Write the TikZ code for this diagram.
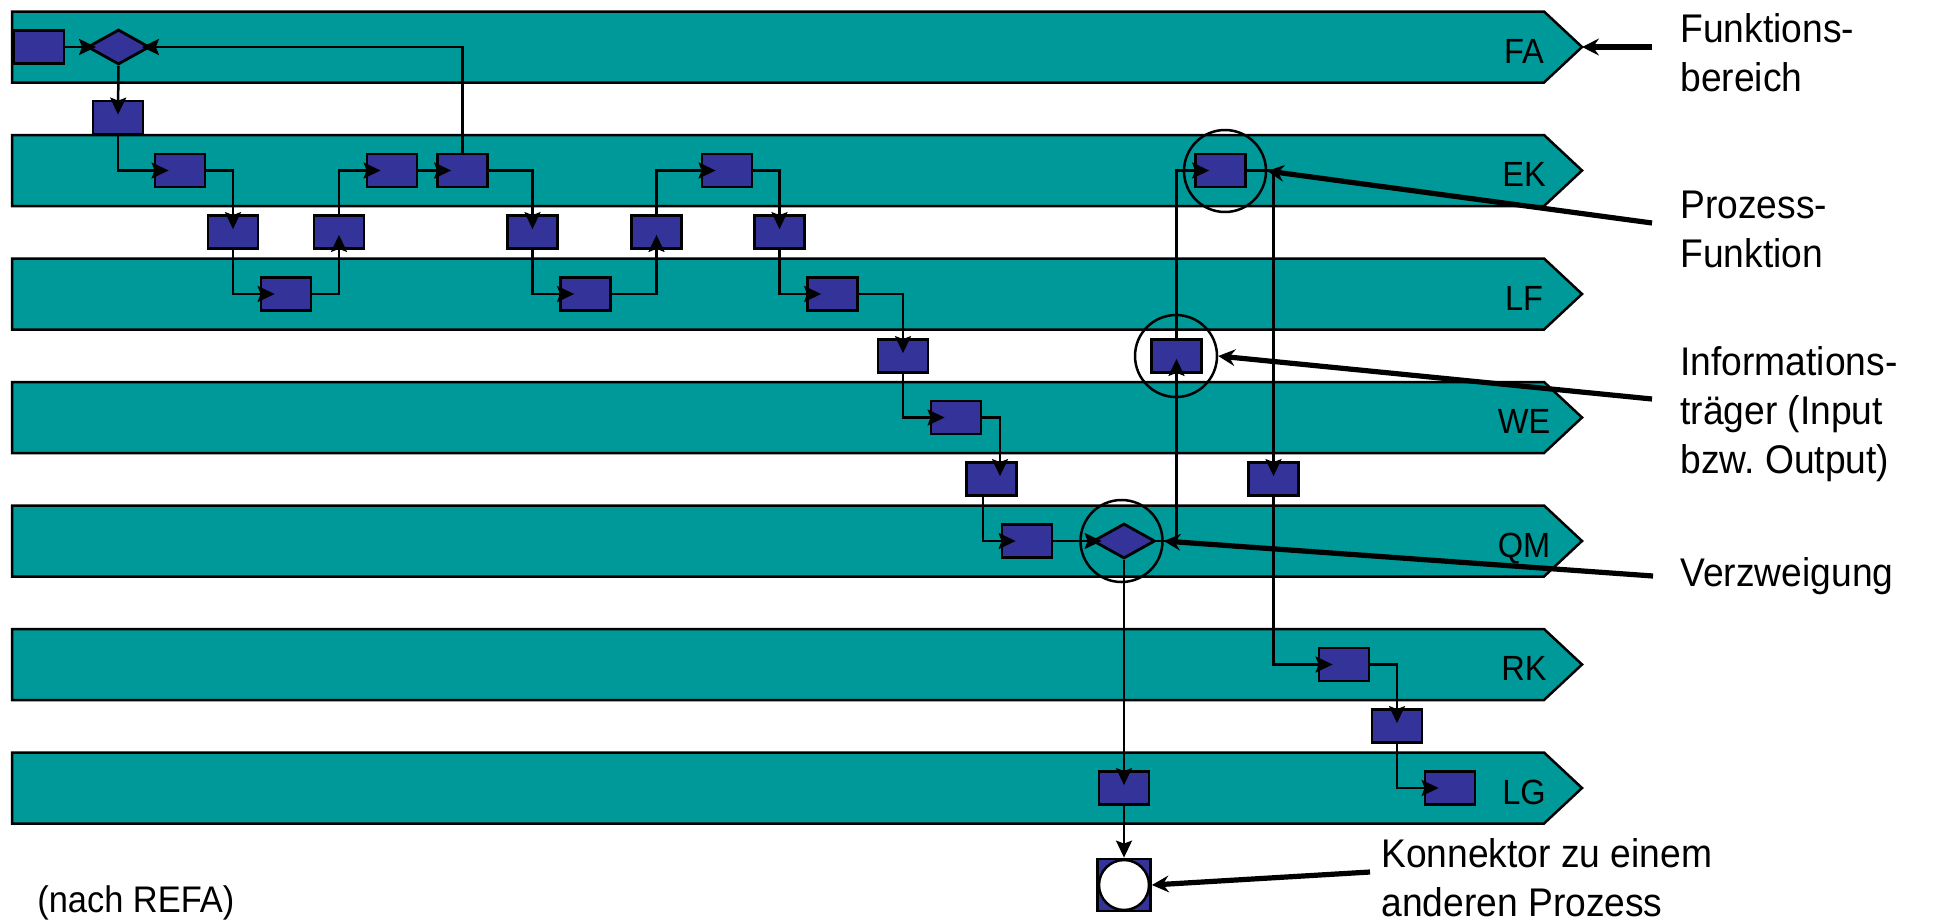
\documentclass[tikz,border=0pt]{standalone}
\usepackage{fontspec}
\setmainfont{Liberation Sans}[FakeStretch=0.93]
\usetikzlibrary{shapes.geometric,arrows.meta}
\definecolor{laneteal}{HTML}{009999}
\definecolor{fnblue}{HTML}{333399}
\frenchspacing
\begin{document}
\begin{tikzpicture}[x=0.5pt,y=-0.5pt,
  lane/.style={fill=laneteal,draw=black,line width=1.25pt,line join=miter},
  lanelabel/.style={font=\fontsize{17.5}{20}\selectfont,anchor=base,inner sep=0pt},
  fn/.style={rectangle,fill=fnblue,draw=black,line width=1.4pt,minimum width=25pt,minimum height=16.5pt,inner sep=0pt},
  branch/.style={diamond,fill=fnblue,draw=black,line width=1.4pt,minimum width=31pt,minimum height=17.5pt,inner sep=0pt},
  ring/.style={circle,draw=black,line width=1.25pt,minimum size=41pt,inner sep=0pt},
  flow/.style={draw=black,line width=1.25pt,-{Stealth[length=8.5pt,width=8pt,inset=1.5pt]}},
  note/.style={draw=black,line width=2.6pt,-{Stealth[length=8.5pt,width=8.5pt,inset=3pt,line width=0.7pt]}},
  notetext/.style={font=\fontsize{20}{24.5}\selectfont,anchor=base west,inner sep=0pt},
]
\useasboundingbox (0,0) rectangle (1937,922);

% swim lanes with their labels
\foreach \lab/\yc in {FA/47,EK/170.5,LF/294,WE/417.5,QM/541,RK/664.5,LG/788}{
  \draw[lane] (12,\yc-35.5) -- (1544,\yc-35.5) -- (1582,\yc) -- (1544,\yc+35.5) -- (12,\yc+35.5) -- cycle;
  \node[lanelabel] (lane\lab) at (1524,\yc+16) {\lab};
  \coordinate (tip\lab) at (1582,\yc);
}

% functions and information carriers
\node[fn] (fa1) at (39,47) {};
\node[branch] (fad) at (118.5,47) {};
\node[fn] (g1) at (118,117.5) {};
\node[fn] (ek1) at (180,170.5) {};
\node[fn] (g2) at (233,232) {};
\node[fn] (lf1) at (286,294) {};
\node[fn] (g3) at (339,232) {};
\node[fn] (ek2) at (392,170.5) {};
\node[fn] (ek3) at (462.5,170.5) {};
\node[fn] (g4) at (532.5,232) {};
\node[fn] (lf2) at (585.5,294) {};
\node[fn] (g5) at (656.5,232) {};
\node[fn] (ek4) at (727,170.5) {};
\node[fn] (g6) at (779.5,232) {};
\node[fn] (lf3) at (832.5,294) {};
\node[fn] (g7) at (903,356) {};
\node[fn] (we1) at (956,417.5) {};
\node[fn] (g9) at (991.5,479) {};
\node[fn] (qm1) at (1027,541) {};
\node[branch] (qmd) at (1124,541) {};
\node[fn] (g8) at (1176.5,356) {};
\node[fn] (ek5) at (1220.5,170.5) {};
\node[fn] (g10) at (1273.5,479) {};
\node[fn] (rk1) at (1344,664.5) {};
\node[fn] (g11) at (1397,726) {};
\node[fn] (lg2) at (1450,788) {};
\node[fn] (lg1) at (1124,788) {};
\node[fn,minimum width=26.5pt,minimum height=26pt] (con) at (1124,885) {};
\node[circle,fill=white,draw=black,line width=1.25pt,minimum size=25pt,inner sep=0pt] (conc) at (con.center) {};

% control flow
\draw[flow] (fa1.east) -- ([xshift=5pt]fad.west);
\draw[flow] (fad.south) -- ([yshift=-7.5pt]g1.north);
\draw[flow] (g1.south) |- ([xshift=7.5pt]ek1.west);
\draw[flow] (ek1.east) -| ([yshift=-7.5pt]g2.north);
\draw[flow] (g2.south) |- ([xshift=7.5pt]lf1.west);
\draw[flow] (lf1.east) -| ([yshift=7.5pt]g3.south);
\draw[flow] (g3.north) |- ([xshift=7.5pt]ek2.west);
\draw[flow] (ek2.east) -- ([xshift=7.5pt]ek3.west);
\draw[flow] (ek3.north) |- ([xshift=-4.5pt]fad.east);
\draw[flow] (ek3.east) -| ([yshift=-7.5pt]g4.north);
\draw[flow] (g4.south) |- ([xshift=7.5pt]lf2.west);
\draw[flow] (lf2.east) -| ([yshift=7.5pt]g5.south);
\draw[flow] (g5.north) |- ([xshift=7.5pt]ek4.west);
\draw[flow] (ek4.east) -| ([yshift=-7.5pt]g6.north);
\draw[flow] (g6.south) |- ([xshift=7.5pt]lf3.west);
\draw[flow] (lf3.east) -| ([yshift=-7.5pt]g7.north);
\draw[flow] (g7.south) |- ([xshift=7.5pt]we1.west);
\draw[flow] (we1.east) -| ([xshift=4.25pt,yshift=-7.5pt]g9.north);
\draw[flow] ([xshift=-4.25pt]g9.south) |- ([xshift=7.5pt]qm1.west);
\draw[flow] (qm1.east) -- ([xshift=5pt]qmd.west);
\draw[flow] (qmd.east) -| ([yshift=7.5pt]g8.south);
\draw[flow] (g8.north) |- ([xshift=7.5pt]ek5.west);
\draw[flow] (ek5.east) -| ([yshift=-7.5pt]g10.north);
\draw[flow] (g10.south) |- ([xshift=7.5pt]rk1.west);
\draw[flow] (rk1.east) -| ([yshift=-7.5pt]g11.north);
\draw[flow] (g11.south) |- ([xshift=7.5pt]lg2.west);
\draw[flow] (qmd.south) -- ([yshift=-7.5pt]lg1.north);
\draw[flow] (lg1.south) -- (con.north);

% highlight rings
\node[ring] (ringfn) at (1225,171) {};
\node[ring] (ringinfo) at (1176,356) {};
\node[ring] (ringbranch) at (1121.5,541) {};

% legend texts
\node[notetext] (t1) at (1680,42) {\vtop{\hbox{Funktions-}\hbox{bereich}}};
\node[notetext] (t2) at (1680,218) {\vtop{\hbox{Prozess-}\hbox{Funktion}}};
\node[notetext] (t3) at (1680,375) {\vtop{\hbox{Informations-}\hbox{träger (Input}\hbox{bzw. Output)}}};
\node[notetext] (t4) at (1680,586) {Verzweigung};
\node[notetext] (t5) at (1381,867) {\vtop{\hbox{Konnektor zu einem}\hbox{anderen Prozess}}};
\node[font=\fontsize{18.5}{22}\selectfont,anchor=base west,inner sep=0pt] (src) at (37,912) {(nach REFA)};

% legend pointers
\coordinate (a1) at (1652,47);
\coordinate (a2) at (1652,223);
\coordinate (a3) at (1652,399);
\coordinate (a4) at (1653,576);
\coordinate (a5) at (1370,872);
\draw[note] (a1) -- (tipFA);
\draw[note] (a2) -- (ringfn.east);
\draw[note] (a3) -- (ringinfo.east);
\draw[note] (a4) -- (ringbranch.east);
\draw[note] (a5) -- (con.east);
\end{tikzpicture}
\end{document}
